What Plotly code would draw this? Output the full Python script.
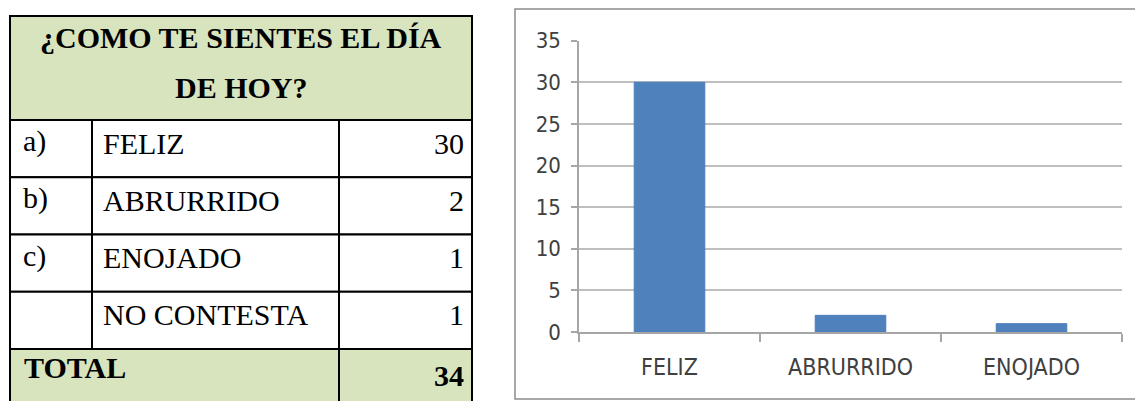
import plotly.graph_objects as go

# ---------------- data ----------------
title_lines = ["¿COMO TE SIENTES EL DÍA", "DE HOY?"]
row_letters = ["a)", "b)", "c)", ""]
responses = ["FELIZ", "ABRURRIDO", "ENOJADO", "NO CONTESTA"]
counts = [30, 2, 1, 1]
total_label = "TOTAL"
total_value = 34

chart_categories = ["FELIZ", "ABRURRIDO", "ENOJADO"]
chart_values = [30, 2, 1]
y_ticks = [0, 5, 10, 15, 20, 25, 30, 35]

# ---------------- layout helpers ----------------
W, H = 1135, 401


def px(x):
    return x / W


def py(y):
    return 1 - y / H


GREEN = "#D7E4BD"
SERIF = "Liberation Serif, Times New Roman, serif"
NARROW = "Liberation Sans Narrow, Arial Narrow, DejaVu Sans Condensed, sans-serif"

fig = go.Figure()

fig.add_trace(go.Bar(
    x=chart_categories, y=chart_values,
    marker=dict(color="#4F81BD", line=dict(color="#4A7EBB", width=1)),
    width=0.39, showlegend=False, hoverinfo="x+y",
))

shapes = []
annotations = []

# chart outer border
shapes.append(dict(type="rect", xref="paper", yref="paper",
                   x0=px(515), x1=px(1145), y0=py(9), y1=py(399),
                   line=dict(color="#8C8C8C", width=1.5), layer="below"))

# ---------------- table ----------------
col_x = [10, 92, 339, 472]
header_top, header_bot = 16, 120
row_h = (349 - 120) / len(responses)
line = dict(color="black", width=2)

# header cell
shapes.append(dict(type="rect", xref="paper", yref="paper",
                   x0=px(col_x[0]), x1=px(col_x[3]), y0=py(header_top), y1=py(header_bot),
                   fillcolor=GREEN, line=line, layer="below"))
for i, t in enumerate(title_lines):
    annotations.append(dict(xref="paper", yref="paper", x=px((col_x[0] + col_x[3]) / 2),
                            y=py(37 + 50 * i), text=f"<b>{t}</b>", showarrow=False,
                            xanchor="center", yanchor="middle",
                            font=dict(family=SERIF, size=30, color="black")))

for r, (let, resp, cnt) in enumerate(zip(row_letters, responses, counts)):
    top = header_bot + r * row_h
    bot = top + row_h
    for c in range(3):
        shapes.append(dict(type="rect", xref="paper", yref="paper",
                           x0=px(col_x[c]), x1=px(col_x[c + 1]), y0=py(top), y1=py(bot),
                           fillcolor="white", line=line, layer="below"))
    cy = top + 23
    if let:
        annotations.append(dict(xref="paper", yref="paper", x=px(21), y=py(cy - 2),
                                text=let, showarrow=False, xanchor="left", yanchor="middle",
                                font=dict(family=SERIF, size=30, color="black")))
    annotations.append(dict(xref="paper", yref="paper", x=px(101), y=py(cy),
                            text=resp, showarrow=False, xanchor="left", yanchor="middle",
                            font=dict(family=SERIF, size=30, color="black")))
    annotations.append(dict(xref="paper", yref="paper", x=px(466), y=py(cy),
                            text=str(cnt), showarrow=False, xanchor="right", yanchor="middle",
                            font=dict(family=SERIF, size=30, color="black")))

# total row
ttop = header_bot + len(responses) * row_h
shapes.append(dict(type="rect", xref="paper", yref="paper",
                   x0=px(col_x[0]), x1=px(col_x[2]), y0=py(ttop), y1=py(ttop + 70),
                   fillcolor=GREEN, line=line, layer="below"))
shapes.append(dict(type="rect", xref="paper", yref="paper",
                   x0=px(col_x[2]), x1=px(col_x[3]), y0=py(ttop), y1=py(ttop + 70),
                   fillcolor=GREEN, line=line, layer="below"))
annotations.append(dict(xref="paper", yref="paper", x=px(22), y=py(ttop + 18),
                        text=f"<b>{total_label}</b>", showarrow=False, xanchor="left",
                        yanchor="middle", font=dict(family=SERIF, size=30, color="black")))
annotations.append(dict(xref="paper", yref="paper", x=px(466), y=py(ttop + 26),
                        text=f"<b>{total_value}</b>", showarrow=False, xanchor="right",
                        yanchor="middle", font=dict(family=SERIF, size=30, color="black")))

fig.update_layout(
    width=W, height=H,
    margin=dict(l=0, r=0, t=0, b=0, autoexpand=False),
    paper_bgcolor="white", plot_bgcolor="white",
    shapes=shapes, annotations=annotations,
    xaxis=dict(domain=[px(579), px(1122)], type="category", range=[-0.5, 2.5],
               showline=True, linecolor="#A6A6A6", linewidth=1.5,
               ticks="outside", tickson="boundaries", ticklen=8, tickcolor="#A6A6A6",
               tickwidth=1.5, showgrid=False, automargin=False,
               ticklabelstandoff=14,
               tickfont=dict(family=NARROW, size=23, color="#404040")),
    yaxis=dict(domain=[py(332), py(40.7)], range=[0, 35], tickvals=y_ticks,
               showline=True, linecolor="#A6A6A6", linewidth=1.5,
               ticks="outside", ticklen=6, tickcolor="#A6A6A6", tickwidth=1.5,
               showgrid=True, gridcolor="#BFBFBF", gridwidth=1.5, zeroline=False,
               ticklabelstandoff=6, automargin=False,
               tickfont=dict(family=NARROW, size=22, color="#404040")),
)

fig.write_html(
    "out.html",
    config={"displayModeBar": False},
    post_script="document.body.style.margin='0';document.body.style.overflow='hidden';",
)
